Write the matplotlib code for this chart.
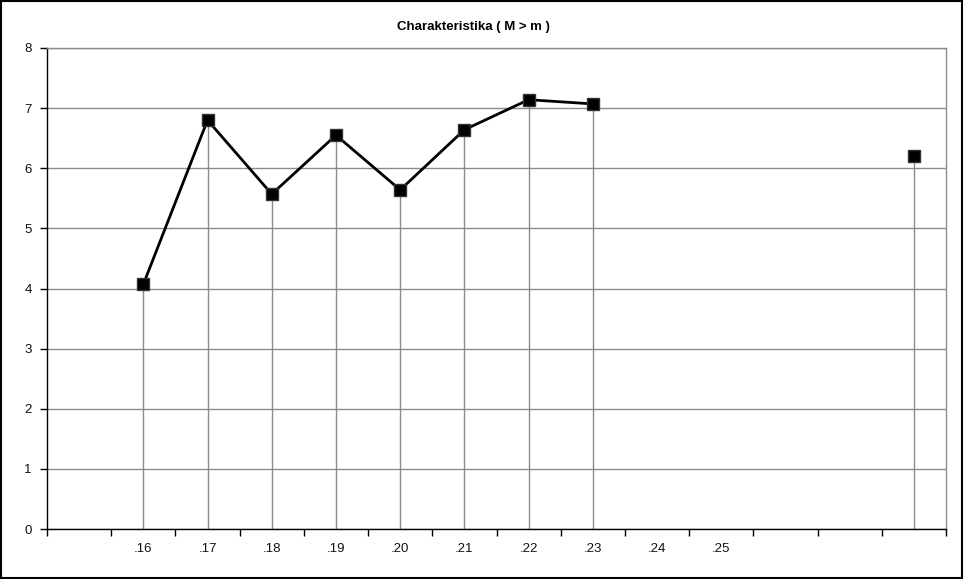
import numpy as np
import matplotlib
matplotlib.use("Agg")
import matplotlib.pyplot as plt
from matplotlib.patches import Rectangle

plt.rcParams['font.family'] = ['Liberation Sans', 'DejaVu Sans']

categories = ["", ".16", ".17", ".18", ".19", ".20", ".21", ".22", ".23", ".24", ".25", "", "", ""]
values = [np.nan, 4.07, 6.80, 5.57, 6.55, 5.64, 6.64, 7.14, 7.07, np.nan, np.nan, np.nan, np.nan, 6.20]
title = "Charakteristika ( M > m )"

W, H = 964, 579
fig = plt.figure(figsize=(W / 100, H / 100), dpi=100)
ax = fig.add_axes([47 / W, 1 - 529 / H, (946 - 47) / W, (529 - 48) / H])

x = np.arange(len(categories))
y = np.array(values, dtype=float)

ax.set_xlim(-0.5, len(categories) - 0.5)
ax.set_ylim(0, 8)

# gridlines
ax.set_yticks(range(0, 9))
ax.yaxis.grid(True, color='#8c8c8c', linewidth=1)
ax.set_axisbelow(True)

# drop lines
mask = ~np.isnan(y)
ax.vlines(x[mask], 0, y[mask], color='#8c8c8c', linewidth=1, zorder=2)

# series
ax.plot(x, y, color='black', linewidth=2, zorder=3)
ax.plot(x[mask], y[mask], linestyle='none', marker='s', markersize=9,
        markerfacecolor='black', markeredgecolor='#333333', zorder=4)

# x axis ticks
ax.set_xticks(x)
ax.set_xticklabels(categories, fontsize=9.5, color='#111111')
ax.set_xticks(np.arange(-0.5, len(categories)), minor=True)
ax.tick_params(axis='x', which='major', length=0, pad=10)
ax.tick_params(axis='x', which='minor', length=5, direction='out', color='black', width=1)
ax.tick_params(axis='y', length=5, direction='out', color='black', width=1,
               labelsize=9.5, labelcolor='#111111', pad=6)

for s in ['top', 'right']:
    ax.spines[s].set_color('#8c8c8c')
    ax.spines[s].set_linewidth(1)
for s in ['left', 'bottom']:
    ax.spines[s].set_color('black')
    ax.spines[s].set_linewidth(1)

fig.text(473 / W, 1 - 27 / H, title, ha='center', va='center', fontsize=9.5, fontweight='bold')

fig.patches.append(Rectangle((0.001, 0.002), 0.997, 0.996, transform=fig.transFigure,
                             fill=False, edgecolor='black', linewidth=1.5))

fig.savefig('out.png', dpi=100)
